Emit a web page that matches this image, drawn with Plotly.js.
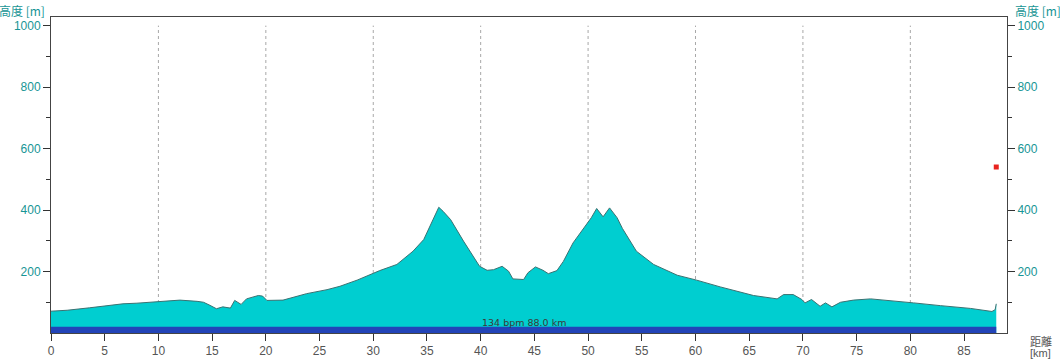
<!DOCTYPE html>
<html>
<head>
<meta charset="utf-8">
<script src="https://cdn.plot.ly/plotly-3.0.1.min.js"></script>
<style>html,body{margin:0;padding:0;background:#fff;}#chart{width:1060px;height:360px;}</style>
</head>
<body>
<div id="chart"></div>
<script>
// distance along route [km]
const distanceKm = [0, 1.5, 3.6, 6.7, 8, 10, 12, 13.6, 14.2, 14.8, 15.4, 16.0, 16.7, 17.1, 17.7, 18.2, 19.3, 19.7, 20.1, 21.6, 23.8, 25.7, 26.9, 28.5, 30.6, 32.2, 33.0, 33.7, 34.7, 35.6, 36.1, 36.5, 37.2, 38.4, 39.3, 39.9, 40.6, 41.2, 42.0, 42.6, 43.0, 44.0, 44.4, 45.1, 45.8, 46.3, 47.1, 47.7, 48.6, 49.6, 50.3, 50.8, 51.4, 52.0, 52.7, 53.2, 53.9, 54.5, 56.1, 58.3, 60.1, 62.3, 65.4, 67.6, 68.2, 69.1, 69.9, 70.2, 70.8, 71.6, 72.1, 72.7, 73.5, 74.7, 76.3, 78.4, 80.3, 82.8, 85.6, 87.6, 87.9, 88.0];
// elevation [m]
const elevationM = [71, 74, 82, 95, 97, 101, 107, 103, 100, 90, 79, 85, 81, 106, 93, 111, 122, 120, 106, 107, 128, 141, 152, 172, 203, 223, 245, 266, 304, 375, 409, 396, 369, 299, 250, 217, 204, 206, 217, 201, 176, 174, 196, 215, 204, 193, 203, 233, 293, 339, 375, 405, 378, 407, 375, 340, 299, 266, 223, 188, 172, 150, 122, 111, 125, 125, 109, 98, 109, 87, 98, 85, 100, 107, 111, 103, 98, 89, 80, 70, 76, 95];
// current position marker
const markerKm = [88.0];
const markerElev = [540];
// summary label
const summaryText = "134 bpm 88.0 km";
// tick labels
const xTicks = [0, 5, 10, 15, 20, 25, 30, 35, 40, 45, 50, 55, 60, 65, 70, 75, 80, 85];
const yTicks = [200, 400, 600, 800, 1000];
const yMinorTicks = [100, 300, 500, 700, 900];
const gridKm = [10, 20, 30, 40, 50, 60, 70, 80];

const teal = "#179595";
const yRange = [0, 1028];
const bandTop = 20;
const totalKm = distanceKm[distanceKm.length - 1];

const traces = [
  {
    x: distanceKm, y: elevationM, type: "scatter", mode: "lines",
    fill: "tozeroy", fillcolor: "#00CED0",
    line: {color: "#3a7272", width: 1}, hoverinfo: "skip"
  },
  {
    x: [0, totalKm], y: [bandTop, bandTop], type: "scatter", mode: "lines",
    fill: "tozeroy", fillcolor: "#2244B8",
    line: {color: "#2244B8", width: 0}, hoverinfo: "skip"
  },
  {
    x: markerKm, y: markerElev, type: "scatter", mode: "markers", yaxis: "y2",
    marker: {symbol: "square", size: 5, color: "#e8231e"}, hoverinfo: "skip"
  }
];

const shapes = gridKm.map(k => ({
  type: "line", xref: "x", yref: "y", x0: k, x1: k, y0: 0, y1: 1000,
  layer: "below", line: {color: "#a8a8a8", width: 1, dash: "dot"}
}));

const yCommon = {
  range: yRange, tickmode: "array", tickvals: yTicks,
  ticks: "outside", ticklen: 7, tickcolor: "#333", tickwidth: 1,
  showline: true, linecolor: "#444", linewidth: 1,
  showgrid: false, zeroline: false,
  tickfont: {color: teal, size: 12, family: "Liberation Sans, Arial, sans-serif"},
  minor: {tickmode: "array", tickvals: yMinorTicks, ticks: "outside", ticklen: 4, tickcolor: "#333", showgrid: false}
};

const cjk = "Noto Sans CJK JP, sans-serif";

const layout = {
  width: 1060, height: 360,
  margin: {l: 51, r: 53, t: 17, b: 27, pad: 0},
  paper_bgcolor: "#fff", plot_bgcolor: "#fff",
  showlegend: false, hovermode: false,
  font: {family: "Liberation Sans, Noto Sans CJK JP, sans-serif", size: 12, color: "#555"},
  xaxis: {
    range: [0, 89], tickmode: "array", tickvals: xTicks,
    ticks: "outside", ticklen: 7, tickcolor: "#333",
    showline: true, mirror: true, linecolor: "#444", linewidth: 1,
    showgrid: false, zeroline: false,
    tickfont: {color: "#555", size: 12}
  },
  yaxis: Object.assign({}, yCommon, {side: "left"}),
  yaxis2: Object.assign({}, yCommon, {side: "right", overlaying: "y", anchor: "x"}),
  shapes: shapes,
  annotations: [
    {text: summaryText, x: totalKm / 2, y: bandTop, xref: "x", yref: "y",
     yanchor: "bottom", xanchor: "center", showarrow: false, yshift: -2, borderpad: 0,
     font: {size: 9.5, color: "#3a3a3a", family: "DejaVu Sans, sans-serif"}},
    {text: "高度 [m]", xref: "paper", yref: "paper", x: 0, y: 1, xanchor: "right", yanchor: "bottom",
     xshift: -5, yshift: -3, showarrow: false, borderpad: 0,
     font: {size: 12, color: teal, family: cjk}},
    {text: "高度 [m]", xref: "paper", yref: "paper", x: 1, y: 1, xanchor: "left", yanchor: "bottom",
     xshift: 7, yshift: -3, showarrow: false, borderpad: 0,
     font: {size: 12, color: teal, family: cjk}},
    {text: "距離", xref: "paper", yref: "paper", x: 1, y: 0, xanchor: "left", yanchor: "top",
     xshift: 22, yshift: 1, showarrow: false, borderpad: 0,
     font: {size: 11, color: "#555", family: cjk}},
    {text: "[km]", xref: "paper", yref: "paper", x: 1, y: 0, xanchor: "left", yanchor: "top",
     xshift: 22, yshift: -13, showarrow: false, borderpad: 0,
     font: {size: 11, color: "#555", family: "Liberation Sans, Arial, sans-serif"}}
  ]
};

Plotly.newPlot("chart", traces, layout, {staticPlot: true, displayModeBar: false});
</script>
</body>
</html>
